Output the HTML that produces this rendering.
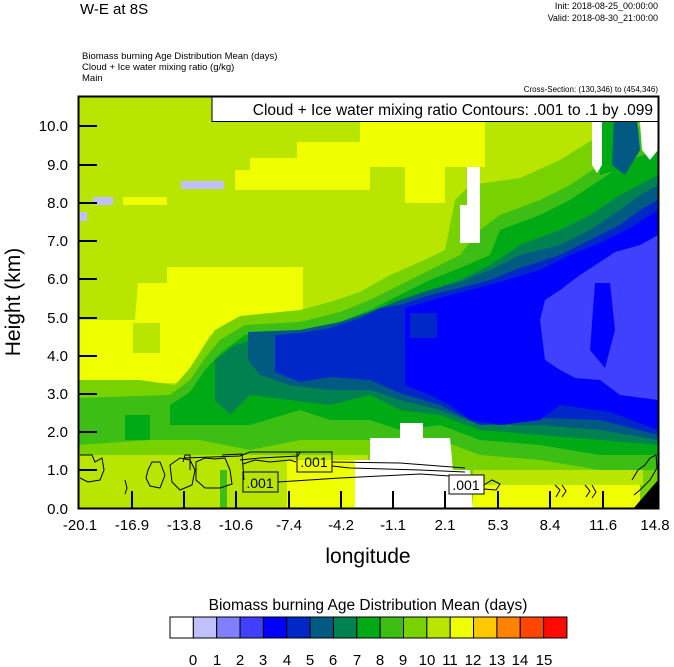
<!DOCTYPE html>
<html><head><meta charset="utf-8"><style>
html,body{margin:0;padding:0;background:#fff;}
svg{display:block;font-family:"Liberation Sans",sans-serif;}
</style></head><body>
<svg width="674" height="667" viewBox="0 0 674 667" xmlns="http://www.w3.org/2000/svg">
<rect width="674" height="667" fill="#fff"/>
<text x="80" y="14" font-size="15">W-E at 8S</text>
<text x="658" y="9" font-size="9" text-anchor="end">Init: 2018-08-25_00:00:00</text>
<text x="658" y="21" font-size="9" text-anchor="end">Valid: 2018-08-30_21:00:00</text>
<text x="82" y="59" font-size="9.5">Biomass burning Age Distribution Mean    (days)</text>
<text x="82" y="70" font-size="9.5">Cloud + Ice water mixing ratio    (g/kg)</text>
<text x="82" y="81" font-size="9.5">Main</text>
<text x="658" y="92" font-size="8" text-anchor="end">Cross-Section: (130,346) to (454,346)</text>
<defs><clipPath id="pc"><rect x="78" y="96" width="580" height="413"/></clipPath></defs>
<g clip-path="url(#pc)">
<rect x="78" y="96" width="580" height="413" fill="#b8e600"/>
<polygon fill="#f0ff00" points="235,190 235,170 250,170 250,158 297,158 297,142 360,142 360,120 485,120 485,167 445,167 445,203 405,203 405,167 370,167 370,190"/>
<polygon fill="#f0ff00" points="78,320 135,320 138,283 167,283 167,267 303,267 303,320 210,335 195,360 180,383 78,383"/>
<rect x="133" y="323" width="27" height="30" fill="#b8e600"/>
<rect x="181" y="181" width="43" height="8" fill="#c0c0ff"/>
<rect x="93" y="197" width="20" height="8" fill="#c0c0ff"/>
<rect x="80" y="212" width="7" height="9" fill="#c0c0ff"/>
<rect x="123" y="197" width="44" height="8" fill="#f0ff00"/>
<polygon fill="#78d200" points="78,380 140,380 175,385 190,368 203,348 215,330 240,316 300,310 330,302 360,292 390,275 420,262 445,250 455,200 470,185 520,178 560,160 600,135 620,110 640,96 658,96 658,509 78,509"/>
<polygon fill="#3cbe14" points="78,398 170,395 190,380 205,358 220,340 245,325 300,322 340,312 370,300 400,285 430,270 460,255 480,230 500,215 540,200 570,185 600,165 630,140 650,110 658,100 658,470 600,470 540,460 480,455 440,440 400,450 370,440 300,440 250,450 200,440 150,440 78,445"/>
<polygon fill="#00aa14" points="170,405 190,392 205,370 222,352 245,335 300,330 340,322 370,310 400,295 430,280 460,268 490,255 500,230 540,215 570,200 600,180 630,160 658,150 658,455 600,455 540,445 480,440 440,425 400,430 370,420 330,420 300,410 250,425 220,425 170,425"/>
<rect x="125" y="415" width="25" height="25" fill="#00aa14"/>
<polygon fill="#008250" points="215,360 235,345 260,338 300,335 340,330 370,318 400,305 430,290 460,280 490,265 520,245 560,230 590,215 620,195 658,175 658,445 600,440 540,435 480,430 440,415 400,410 370,395 330,405 290,400 250,395 230,415 215,400"/>
<polygon fill="#005a82" points="248,332 300,330 340,322 370,312 400,300 430,290 460,282 490,270 520,255 560,245 590,230 620,210 640,195 658,185 658,440 600,430 540,425 480,425 440,410 400,400 370,390 330,390 290,385 260,375 248,360"/>
<polygon fill="#0028c8" points="275,335 300,333 330,328 360,318 380,308 400,305 430,295 460,288 490,280 520,268 560,255 590,240 620,225 640,210 658,200 658,435 600,420 540,418 480,425 440,405 400,393 370,380 330,377 300,382 275,372"/>
<polygon fill="#0000ff" points="405,308 443,297 500,282 540,270 570,255 600,243 630,228 658,210 658,430 610,412 560,405 540,420 500,425 470,420 450,405 430,395 405,385"/>
<rect x="410" y="313" width="27" height="25" fill="#0028c8"/>
<polygon fill="#4040ff" points="545,300 560,290 580,275 600,262 615,252 640,245 658,235 658,400 620,395 600,380 575,378 560,370 545,360 540,320"/>
<polygon fill="#0000ff" points="595,283 610,283 615,330 605,368 590,350"/>
<polygon fill="#00aa14" points="598,96 617,96 617,170 600,175"/>
<polygon fill="#005a82" points="615,96 635,96 640,150 625,175 612,165"/>
<polygon fill="#fff" points="592,96 602,96 602,165 597,173 592,165"/>
<polygon fill="#fff" points="638,96 658,96 658,150 650,160 642,150"/>
<polygon fill="#fff" points="467,167 480,167 480,243 460,243 460,205 467,205"/>
<rect x="78" y="455" width="290" height="54" fill="#b8e600"/>
<rect x="220" y="470" width="7" height="39" fill="#3cbe14"/>
<rect x="287" y="460" width="70" height="49" fill="#f0ff00"/>
<polygon fill="#fff" points="400,423 423,423 423,438 450,438 453,470 470,470 473,509 355,509 355,460 370,460 370,438 400,438"/>
<rect x="473" y="485" width="167" height="24" fill="#f0ff00"/>
<rect x="473" y="470" width="170" height="15" fill="#b8e600"/>
<polygon fill="#000" points="633,509 658,480 658,509"/>
<g fill="none" stroke="#000" stroke-width="1">
<path d="M80,455 L92,455 L95,462 L102,458 L104,470 L100,480 L88,482 L80,478"/>
<path d="M148,470 L152,462 L160,462 L165,475 L160,488 L150,486 L146,478Z"/>
<path d="M170,465 L180,458 L190,460 L195,470 L192,485 L180,490 L172,482Z"/>
<path d="M183,462 L185,455 L190,455 L190,470"/>
<path d="M196,462 L205,458 L215,459 L225,458 L230,470 L232,484 L220,488 L205,488 L196,480Z"/>
<path d="M222,455 L242,454 L244,480"/>
<path d="M243,464 L255,460 L270,462 L290,460 L296,462"/>
<path d="M184,458 L240,456 L250,452 L300,452 L298,456 L260,458 L240,460"/>
<path d="M278,482 L340,478 L380,476 L420,474 L465,477"/>
<path d="M332,462 L400,463 L465,468"/>
<path d="M332,466 L350,468 L420,470 L465,472"/>
<path d="M484,485 L492,480 L500,484 L496,490 L484,489"/>
<path d="M555,485 L560,490 L556,497 M562,485 L566,491 L562,497"/>
<path d="M585,485 L590,491 L586,497 M592,485 L596,492 L592,498"/>
<path d="M632,480 L638,470 L645,465 L650,458 L656,455 L657,468 L650,480 L640,490 L634,495"/>
<path d="M125,480 L127,488 L125,494"/>
</g>
<g font-size="14">
<rect x="297" y="452" width="35" height="20" fill="none" stroke="#000"/>
<text x="314" y="467" text-anchor="middle">.001</text>
<rect x="243" y="472" width="35" height="20" fill="none" stroke="#000"/>
<text x="260" y="488" text-anchor="middle">.001</text>
<rect x="449" y="475" width="35" height="19" fill="#fff" stroke="#000"/>
<text x="466" y="490" text-anchor="middle">.001</text>
</g>
</g>
<rect x="212" y="96.5" width="446" height="25" fill="#fff" stroke="#000"/>
<text x="653" y="115" font-size="15.5" text-anchor="end">Cloud + Ice water mixing ratio Contours: .001 to .1 by .099</text>
<rect x="78.5" y="96.5" width="580" height="412" fill="none" stroke="#000" stroke-width="2"/>
<g stroke="#000" stroke-width="2">
<path d="M79,126H97M79,165H97M79,203H97M79,241H97M79,279H97M79,318H97M79,356H97M79,394H97M79,432H97M79,470H97"/>
<path d="M132,508V491M184,508V491M236,508V491M289,508V491M341,508V491M393,508V491M445,508V491M498,508V491M550,508V491M603,508V491"/>
</g>
<g font-size="15" text-anchor="end">
<text x="68" y="131">10.0</text><text x="68" y="170">9.0</text><text x="68" y="208">8.0</text>
<text x="68" y="246">7.0</text><text x="68" y="284">6.0</text><text x="68" y="323">5.0</text>
<text x="68" y="361">4.0</text><text x="68" y="399">3.0</text><text x="68" y="437">2.0</text>
<text x="68" y="475">1.0</text><text x="68" y="514">0.0</text>
</g>
<g font-size="15" text-anchor="middle">
<text x="80" y="530">-20.1</text><text x="132" y="530">-16.9</text><text x="184" y="530">-13.8</text>
<text x="236" y="530">-10.6</text><text x="289" y="530">-7.4</text><text x="341" y="530">-4.2</text>
<text x="393" y="530">-1.1</text><text x="445" y="530">2.1</text><text x="498" y="530">5.3</text>
<text x="550" y="530">8.4</text><text x="603" y="530">11.6</text><text x="655" y="530">14.8</text>
</g>
<text x="368" y="563" font-size="21" text-anchor="middle">longitude</text>
<text transform="translate(20,302) rotate(-90)" font-size="21" text-anchor="middle">Height (km)</text>
<text x="368" y="610" font-size="15.5" text-anchor="middle">Biomass burning Age Distribution Mean  (days)</text>
<g stroke="#000" stroke-width="1">
<rect x="170" y="617" width="23.35" height="21" fill="#fff"/>
<rect x="193.35" y="617" width="23.35" height="21" fill="#c0c0ff"/>
<rect x="216.7" y="617" width="23.35" height="21" fill="#8080ff"/>
<rect x="240.05" y="617" width="23.35" height="21" fill="#4040ff"/>
<rect x="263.4" y="617" width="23.35" height="21" fill="#0000ff"/>
<rect x="286.75" y="617" width="23.35" height="21" fill="#0028c8"/>
<rect x="310.1" y="617" width="23.35" height="21" fill="#005a82"/>
<rect x="333.45" y="617" width="23.35" height="21" fill="#008250"/>
<rect x="356.8" y="617" width="23.35" height="21" fill="#00aa14"/>
<rect x="380.15" y="617" width="23.35" height="21" fill="#3cbe14"/>
<rect x="403.5" y="617" width="23.35" height="21" fill="#78d200"/>
<rect x="426.85" y="617" width="23.35" height="21" fill="#b8e600"/>
<rect x="450.2" y="617" width="23.35" height="21" fill="#f0ff00"/>
<rect x="473.55" y="617" width="23.35" height="21" fill="#ffc800"/>
<rect x="496.9" y="617" width="23.35" height="21" fill="#ff8200"/>
<rect x="520.25" y="617" width="23.35" height="21" fill="#ff4600"/>
<rect x="543.6" y="617" width="23.35" height="21" fill="#ff0a00"/>
</g>
<g font-size="15" text-anchor="middle">
<text x="193" y="665">0</text><text x="217" y="665">1</text><text x="240" y="665">2</text>
<text x="263" y="665">3</text><text x="287" y="665">4</text><text x="310" y="665">5</text>
<text x="333" y="665">6</text><text x="357" y="665">7</text><text x="380" y="665">8</text>
<text x="403" y="665">9</text><text x="427" y="665">10</text><text x="450" y="665">11</text>
<text x="473" y="665">12</text><text x="497" y="665">13</text><text x="520" y="665">14</text>
<text x="544" y="665">15</text>
</g>
</svg>
</body></html>
